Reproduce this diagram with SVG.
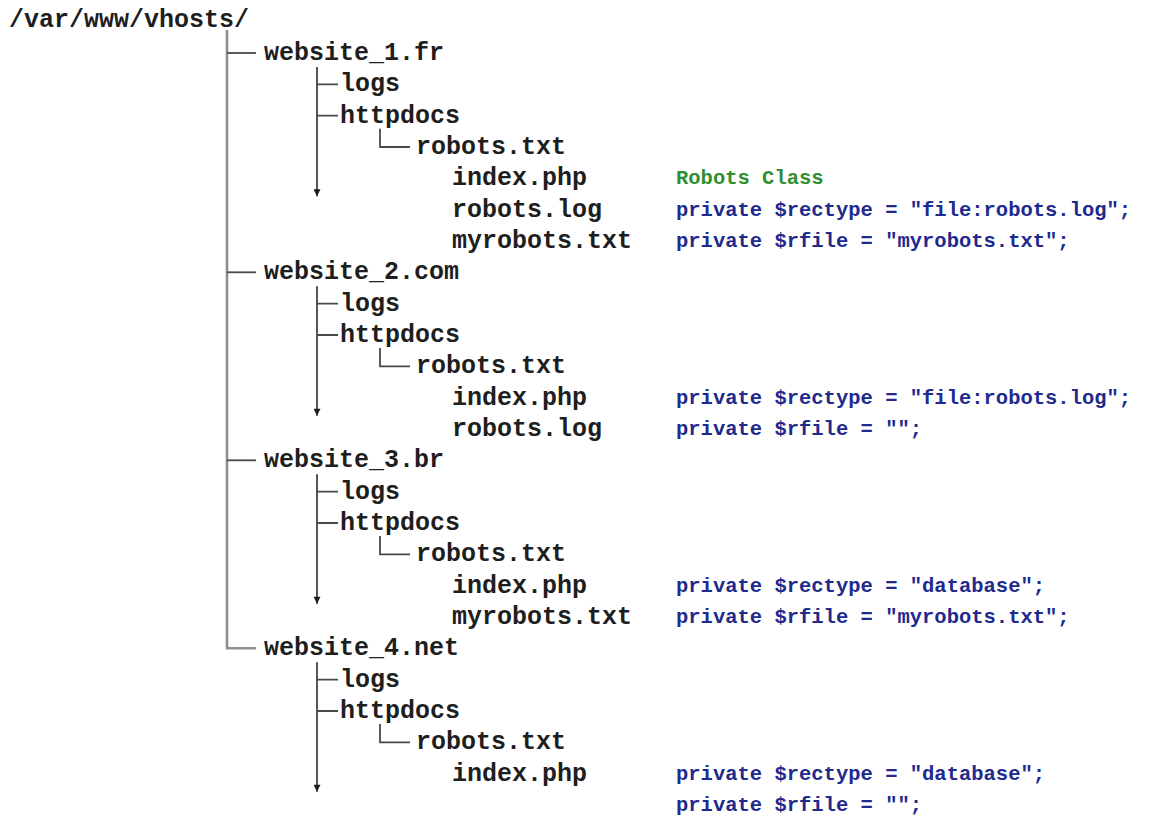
<svg xmlns="http://www.w3.org/2000/svg" width="1152" height="818" viewBox="0 0 1152 818">
<style>
.t{font-family:"Liberation Mono","Courier New",monospace;font-weight:bold;font-size:25px;fill:#1e1e1e}
.c{font-family:"Liberation Mono","Courier New",monospace;font-weight:bold;font-size:20.5px;fill:#202a8e}
.g{fill:#2f8f2f}
.main{stroke:#8f8f8f;stroke-width:2.6;fill:none}
.br{stroke:#4a4a4a;stroke-width:1.8;fill:none}
.sub{stroke:#1e1e1e;stroke-width:1.5;fill:none}
</style>
<defs>
<marker id="arr" viewBox="0 0 10 10" refX="10" refY="5" markerUnits="userSpaceOnUse" markerWidth="10" markerHeight="7" orient="auto">
<path d="M0,0 L10,5 L0,10 z" fill="#1e1e1e"/>
</marker>
</defs>
<rect width="1152" height="818" fill="#ffffff"/>
<g id="connectors">
<path class="main" d="M227,30 V648.3 H256"/>
<path class="br" d="M227,53 H256"/>
<path class="br" d="M227,272.3 H256"/>
<path class="br" d="M227,460.3 H256"/>
<path class="sub" d="M317,67 V196.3" marker-end="url(#arr)"/>
<path class="br" d="M317,84.3 H338 M317,115.7 H338"/>
<path class="br" d="M380,128.7 V147 H410"/>
<path class="sub" d="M317,286.3 V415.7" marker-end="url(#arr)"/>
<path class="br" d="M317,303.7 H338 M317,335 H338"/>
<path class="br" d="M380,348 V366.3 H410"/>
<path class="sub" d="M317,474.3 V603.7" marker-end="url(#arr)"/>
<path class="br" d="M317,491.7 H338 M317,523 H338"/>
<path class="br" d="M380,536 V554.3 H410"/>
<path class="sub" d="M317,662.3 V791.7" marker-end="url(#arr)"/>
<path class="br" d="M317,679.7 H338 M317,711 H338"/>
<path class="br" d="M380,724 V742.3 H410"/>
</g>
<g id="root"><text class="t" x="9" y="27">/var/www/vhosts/</text></g>
<g id="website1">
<text class="t" x="264" y="60">website_1.fr</text>
<text class="t" x="340" y="91.3">logs</text>
<text class="t" x="340" y="122.7">httpdocs</text>
<text class="t" x="416" y="154">robots.txt</text>
<text class="t" x="452" y="185.3">index.php</text>
<text class="t" x="452" y="216.7">robots.log</text>
<text class="t" x="452" y="248">myrobots.txt</text>
<text class="c g" x="676" y="184.3">Robots Class</text>
<text class="c" x="676" y="215.7">private $rectype = "file:robots.log";</text>
<text class="c" x="676" y="247">private $rfile = "myrobots.txt";</text>
</g>
<g id="website2">
<text class="t" x="264" y="279.3">website_2.com</text>
<text class="t" x="340" y="310.7">logs</text>
<text class="t" x="340" y="342">httpdocs</text>
<text class="t" x="416" y="373.3">robots.txt</text>
<text class="t" x="452" y="404.7">index.php</text>
<text class="t" x="452" y="436">robots.log</text>
<text class="c" x="676" y="403.7">private $rectype = "file:robots.log";</text>
<text class="c" x="676" y="435">private $rfile = "";</text>
</g>
<g id="website3">
<text class="t" x="264" y="467.3">website_3.br</text>
<text class="t" x="340" y="498.7">logs</text>
<text class="t" x="340" y="530">httpdocs</text>
<text class="t" x="416" y="561.3">robots.txt</text>
<text class="t" x="452" y="592.7">index.php</text>
<text class="t" x="452" y="624">myrobots.txt</text>
<text class="c" x="676" y="591.7">private $rectype = "database";</text>
<text class="c" x="676" y="623">private $rfile = "myrobots.txt";</text>
</g>
<g id="website4">
<text class="t" x="264" y="655.3">website_4.net</text>
<text class="t" x="340" y="686.7">logs</text>
<text class="t" x="340" y="718">httpdocs</text>
<text class="t" x="416" y="749.3">robots.txt</text>
<text class="t" x="452" y="780.7">index.php</text>
<text class="c" x="676" y="779.7">private $rectype = "database";</text>
<text class="c" x="676" y="811">private $rfile = "";</text>
</g>
</svg>
